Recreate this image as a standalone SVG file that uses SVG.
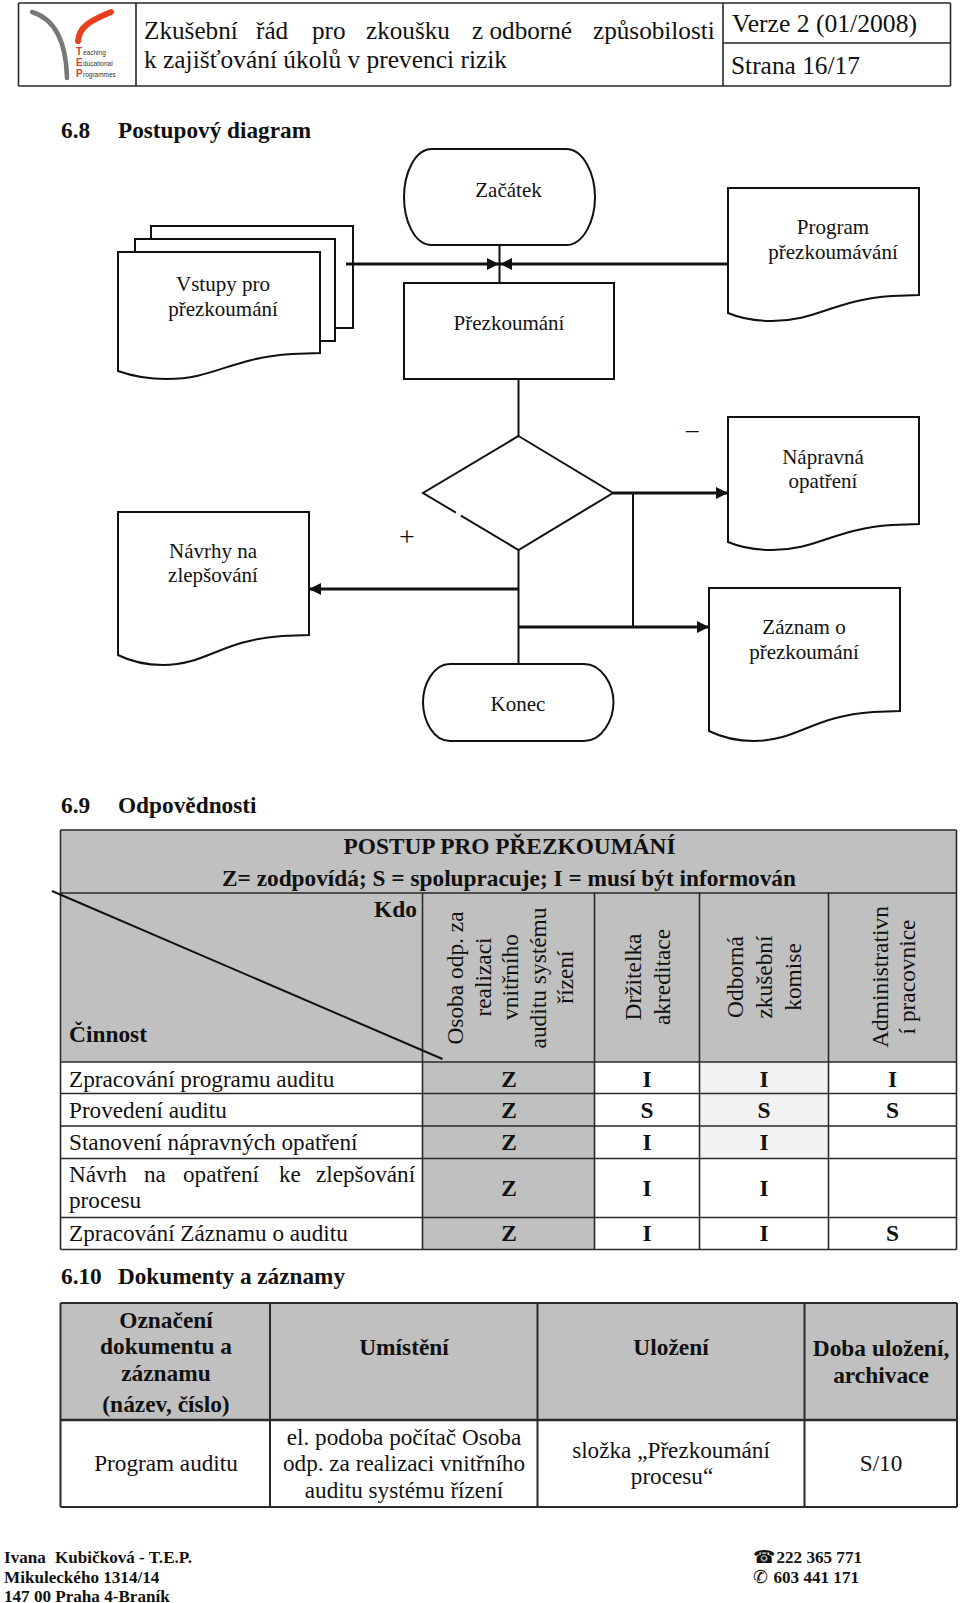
<svg xmlns="http://www.w3.org/2000/svg" width="960" height="1603" viewBox="0 0 960 1603">
<style>
text{font-family:"Liberation Serif","Times New Roman",serif;fill:#111;font-size:21px}
.c{text-anchor:middle}
.d{font-size:23.2px}
.b{font-weight:bold;font-size:23.4px}
.h{font-size:23.3px;font-weight:bold}
.t{font-size:25.2px}
.r{font-size:23.4px;text-anchor:middle}
.f{font-size:17.1px;font-weight:bold}
.s{fill:#fff;stroke:#111;stroke-width:2}
.n{fill:none;stroke:#111;stroke-width:2}
.k{fill:none;stroke:#111;stroke-width:2.8;marker-end:url(#a)}
.g{fill:#c0c0c0}
.l{fill:#f2f2f2}
.v{stroke:#2a2a2a;stroke-width:1.6;fill:none}
.lg{font-family:"Liberation Sans",sans-serif;font-size:10px;font-weight:bold;fill:#d9432a}
.ls{font-family:"Liberation Sans",sans-serif;font-size:6.5px;fill:#333}
</style>
<defs>
<marker id="a" markerUnits="userSpaceOnUse" markerWidth="12" markerHeight="12" refX="12" refY="6" orient="auto"><path d="M0 0L12 6L0 12Z" fill="#111"/></marker>
</defs>
<rect width="960" height="1603" fill="#fff"/>

<g id="header">
<path class="v" d="M18.500 3H950.500M18.500 86H950.500M18.500 3V86M136 3V86M723 3V86M950.500 3V86M723 43H950.500"/>
<path d="M32 12C52 18 66 38 67 78" fill="none" stroke="#777" stroke-width="4.500" stroke-linecap="round"/>
<path d="M111 12C92 20 79 26 78 41" fill="none" stroke="#e8401f" stroke-width="6" stroke-linecap="round"/>
<text class="lg" x="76" y="55">T</text>
<text class="lg" x="76" y="66">E</text>
<text class="lg" x="76" y="77">P</text>
<text class="ls" x="83" y="55">eaching</text>
<text class="ls" x="83" y="66">ducational</text>
<text class="ls" x="83" y="77">rogrammes</text>
<text class="t" y="38.500"><tspan x="144">Zkušební</tspan><tspan x="256">řád</tspan><tspan x="312">pro</tspan><tspan x="366">zkoušku</tspan><tspan x="472">z odborné</tspan><tspan x="593">způsobilosti</tspan></text>
<text class="t" x="144" y="68" textLength="363" lengthAdjust="spacingAndGlyphs">k zajišťování úkolů v prevenci rizik</text>
<text class="t" x="732" y="32" textLength="185" lengthAdjust="spacingAndGlyphs">Verze 2 (01/2008)</text>
<text class="t" x="731" y="73.500" textLength="129" lengthAdjust="spacingAndGlyphs">Strana 16/17</text>
</g>

<text class="h" x="61" y="138">6.8</text>
<text class="h" x="118" y="138" textLength="193" lengthAdjust="spacingAndGlyphs">Postupový diagram</text>

<g id="connectors">
<path class="n" d="M499.500 245V283"/>
<path class="n" d="M518.500 379V436"/>
<path class="n" d="M518.500 550V664"/>
<path class="n" d="M633 493V627"/>
<path class="k" d="M346 264H499"/>
<path class="k" d="M728 264H500"/>
<path class="k" d="M613 493H728"/>
<path class="k" d="M518.500 589H309"/>
<path class="k" d="M518.500 627H709"/>
</g>

<g id="node-zacatek">
<path class="s" d="M432 149H566C584 149 595 175 595 197C595 220 584 245 566 245H432C414 245 404 220 404 197C404 175 414 149 432 149Z"/>
<text class="c" x="508.500" y="197">Začátek</text>
</g>
<g id="node-vstupy">
<path class="n" d="M151 239V226H353V328H335"/>
<path class="n" d="M135 252V239H335V341H320"/>
<path class="s" d="M118 252H320V353L292 354C230 358 215 379 167 379Q140 379 118 371Z"/>
<text class="c" x="223" y="291">Vstupy pro</text>
<text class="c" x="223" y="316">přezkoumání</text>
</g>
<g id="node-program">
<path class="s" d="M728 188H919V295L892 296C833 300 817 321 772 321Q747 321 728 313Z"/>
<text class="c" x="833" y="234">Program</text>
<text class="c" x="833" y="259">přezkoumávání</text>
</g>
<g id="node-prezkoumani">
<rect class="s" x="404" y="283" width="210" height="96"/>
<text class="c" x="509" y="330">Přezkoumání</text>
</g>
<g id="node-diamond">
<path class="s" d="M518.500 436L613 493L518.500 550L423 493Z"/>
<path d="M456 512.500L461 515.500" stroke="#fff" stroke-width="4"/>
</g>
<text x="686" y="438" style="font-size:25px">–</text>
<text class="c" x="407" y="546" style="font-size:28px">+</text>
<g id="node-napravna">
<path class="s" d="M728 417H919V524L892 525C833 529 817 550 772 550Q747 550 728 542Z"/>
<text class="c" x="823" y="463.500">Nápravná</text>
<text class="c" x="823" y="488">opatření</text>
</g>
<g id="node-navrhy">
<path class="s" d="M118 512H309V635L282 636C222 640 206 665 163 665Q138 665 118 655Z"/>
<text class="c" x="213" y="558">Návrhy na</text>
<text class="c" x="213" y="582">zlepšování</text>
</g>
<g id="node-zaznam">
<path class="s" d="M709 588H900V711L873 712C813 716 797 741 754 741Q729 741 709 731Z"/>
<text class="c" x="804" y="634">Záznam o</text>
<text class="c" x="804" y="659">přezkoumání</text>
</g>
<g id="node-konec">
<path class="s" d="M450 664H584C602 664 613.500 685 613.500 702C613.500 720 602 741 584 741H450C433 741 423 720 423 702C423 685 433 664 450 664Z"/>
<text class="c" x="518" y="711">Konec</text>
</g>

<text class="h" x="61" y="813">6.9</text>
<text class="h" x="118" y="813">Odpovědnosti</text>

<g id="table-responsibilities">
<rect class="g" x="60.500" y="830" width="896" height="232"/>
<rect class="g" x="422.500" y="1062" width="172" height="187"/>
<rect class="l" x="699.500" y="1062" width="129" height="96"/>
<path class="v" d="M60.500 830H956.500M60.500 893H956.500M60.500 1062H956.500M60.500 1093.500H956.500M60.500 1126H956.500M60.500 1158.500H956.500M60.500 1217.500H956.500M60.500 1249.500H956.500M60.500 830V1249.500M956.500 830V1249.500M422.500 893V1249.500M594.500 893V1249.500M699.500 893V1249.500M828.500 893V1249.500"/>
<path class="n" d="M52 891L442.500 1059"/>
<text class="c b" x="509.500" y="854" textLength="332" lengthAdjust="spacingAndGlyphs">POSTUP PRO PŘEZKOUMÁNÍ</text>
<text class="c b" x="509" y="886" textLength="574" lengthAdjust="spacingAndGlyphs">Z= zodpovídá; S = spolupracuje; I = musí být informován</text>
<text class="b" x="374" y="917">Kdo</text>
<text class="b" x="69" y="1042">Činnost</text>
<text class="r" transform="translate(463 978) rotate(-90)">Osoba odp. za</text>
<text class="r" transform="translate(490.500 977) rotate(-90)">realizaci</text>
<text class="r" transform="translate(518 977) rotate(-90)">vnitřního</text>
<text class="r" transform="translate(546 978) rotate(-90)">auditu systému</text>
<text class="r" transform="translate(573 977) rotate(-90)">řízení</text>
<text class="r" transform="translate(641 977) rotate(-90)">Držitelka</text>
<text class="r" transform="translate(669.500 977) rotate(-90)">akreditace</text>
<text class="r" transform="translate(743 977) rotate(-90)">Odborná</text>
<text class="r" transform="translate(772 977) rotate(-90)">zkušební</text>
<text class="r" transform="translate(800.500 977) rotate(-90)">komise</text>
<text class="r" transform="translate(888 977) rotate(-90)">Administrativn</text>
<text class="r" transform="translate(914.500 977) rotate(-90)">í pracovnice</text>
<text class="d" x="69" y="1087">Zpracování programu auditu</text>
<text class="d" x="69" y="1118">Provedení auditu</text>
<text class="d" x="69" y="1150">Stanovení nápravných opatření</text>
<text class="d" y="1182"><tspan x="69">Návrh</tspan><tspan x="144">na</tspan><tspan x="183">opatření</tspan><tspan x="279">ke</tspan><tspan x="316">zlepšování</tspan></text>
<text class="d" x="69" y="1208">procesu</text>
<text class="d" x="69" y="1241">Zpracování Záznamu o auditu</text>
<g>
<text class="c b" x="509" y="1087">Z</text><text class="c b" x="647" y="1087">I</text><text class="c b" x="764" y="1087">I</text><text class="c b" x="892.500" y="1087">I</text>
<text class="c b" x="509" y="1118">Z</text><text class="c b" x="647" y="1118">S</text><text class="c b" x="764" y="1118">S</text><text class="c b" x="892.500" y="1118">S</text>
<text class="c b" x="509" y="1150">Z</text><text class="c b" x="647" y="1150">I</text><text class="c b" x="764" y="1150">I</text>
<text class="c b" x="509" y="1196">Z</text><text class="c b" x="647" y="1196">I</text><text class="c b" x="764" y="1196">I</text>
<text class="c b" x="509" y="1241">Z</text><text class="c b" x="647" y="1241">I</text><text class="c b" x="764" y="1241">I</text><text class="c b" x="892.500" y="1241">S</text>
</g>
</g>

<text class="h" x="61" y="1284">6.10</text>
<text class="h" x="118" y="1284" textLength="227" lengthAdjust="spacingAndGlyphs">Dokumenty a záznamy</text>

<g id="table-documents">
<rect class="g" x="60.500" y="1303" width="896.500" height="117"/>
<path class="v" d="M60.500 1303H957M60.500 1507H957M60.500 1303V1507M957 1303V1507M270 1303V1507M537.500 1303V1507M804.500 1303V1507" style="stroke-width:2"/>
<path class="v" d="M60.500 1420H957" style="stroke-width:2.500"/>
<text class="c b" x="166" y="1328">Označení</text>
<text class="c b" x="166" y="1354">dokumentu a</text>
<text class="c b" x="166" y="1381">záznamu</text>
<text class="c b" x="166" y="1412">(název, číslo)</text>
<text class="c b" x="404" y="1355">Umístění</text>
<text class="c b" x="671" y="1355">Uložení</text>
<text class="c b" x="881" y="1356">Doba uložení,</text>
<text class="c b" x="881" y="1383">archivace</text>
<text class="c d" x="166" y="1471">Program auditu</text>
<text class="c d" x="404" y="1445">el. podoba počítač Osoba</text>
<text class="c d" x="404" y="1471">odp. za realizaci vnitřního</text>
<text class="c d" x="404" y="1498">auditu systému řízení</text>
<text class="c d" x="671" y="1458">složka „Přezkoumání</text>
<text class="c d" x="672" y="1484">procesu“</text>
<text class="c d" x="881" y="1471">S/10</text>
</g>

<g id="footer">
<text class="f" x="4" y="1563">Ivana</text>
<text class="f" x="55" y="1563">Kubičková - T.E.P.</text>
<text class="f" x="4" y="1583">Mikuleckého 1314/14</text>
<text class="f" x="4" y="1602">147 00 Praha 4-Braník</text>
<text x="753" y="1563" style="font-family:'DejaVu Sans',sans-serif;font-size:18px">☎</text>
<text class="f" x="776.500" y="1563">222 365 771</text>
<text x="753" y="1583" style="font-family:'DejaVu Sans',sans-serif;font-size:18px;font-weight:bold">✆</text>
<text class="f" x="773.500" y="1583">603 441 171</text>
</g>
</svg>
